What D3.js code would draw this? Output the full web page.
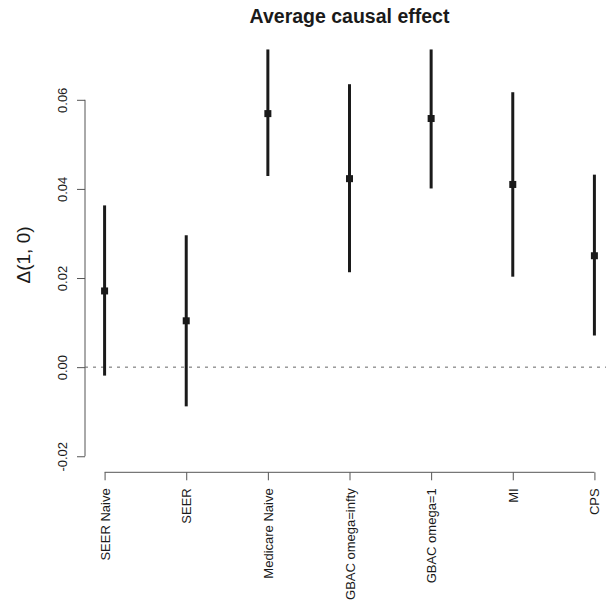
<!DOCTYPE html>
<html>
<head>
<meta charset="utf-8">
<script src="https://cdn.jsdelivr.net/npm/d3@7"></script>
<style>
  body { margin: 0; background: #fff; }
  text { font-family: "Liberation Sans", Arial, Helvetica, sans-serif; fill: #1a1a1a; }
</style>
</head>
<body>
<script>
// estimates and intervals
const methods = ["SEER Naive", "SEER", "Medicare Naive", "GBAC omega=infty", "GBAC omega=1", "MI", "CPS"];
const estimates = [0.0171, 0.0104, 0.0569, 0.0423, 0.0558, 0.0410, 0.0250];
const lowers = [-0.0019, -0.0088, 0.0429, 0.0213, 0.0401, 0.0203, 0.0071];
const uppers = [0.0363, 0.0296, 0.0713, 0.0635, 0.0713, 0.0617, 0.0432];
const yTicks = [-0.02, 0.00, 0.02, 0.04, 0.06];
const yTickLabels = ["-0.02", "0.00", "0.02", "0.04", "0.06"];

let svg = null;
let x, y = null;

const plot = {left: 85, right: 614, top: 39.2, bottom: 472.3};

appendSvg("body");
setupScales();
appendTitle();
appendYAxis();
appendXAxis();
appendZeroLine();
appendIntervals();

function appendSvg(domElement) {
  svg = d3.select(domElement).append("svg")
    .attr("width", 606)
    .attr("height", 603);
}

function setupScales() {
  x = d3.scalePoint()
    .domain(methods)
    .range([plot.left, plot.right])
    .padding(0.24);

  y = d3.scaleLinear()
    .domain([-0.0236, 0.0736])
    .range([plot.bottom, plot.top]);
}

function appendTitle() {
  svg.append("text")
    .attr("x", 349.5)
    .attr("y", 22.5)
    .attr("text-anchor", "middle")
    .style("font-size", "19.5px")
    .style("font-weight", "bold")
    .text("Average causal effect");

  svg.append("text")
    .attr("transform", "translate(30, 255) rotate(-90)")
    .attr("text-anchor", "middle")
    .style("font-size", "19px")
    .text("\u0394(1, 0)");
}

function appendYAxis() {
  const g = svg.append("g")
    .attr("transform", `translate(${plot.left}, 0)`)
    .call(d3.axisLeft(y).tickValues(yTicks).tickSize(8).tickFormat((d, i) => yTickLabels[i]));
  g.select(".domain").remove();
  g.selectAll(".tick line").attr("stroke", "#555");
  g.selectAll(".tick text")
    .attr("x", null).attr("dy", null)
    .attr("transform", "translate(-23, 0) rotate(-90)")
    .attr("text-anchor", "middle")
    .attr("dy", "0.35em")
    .style("font-size", "13px")
    .style("font-family", "'Liberation Sans', Arial, sans-serif")
    .attr("fill", "#1a1a1a");
  g.append("line")
    .attr("x1", 0).attr("x2", 0)
    .attr("y1", y(yTicks[0])).attr("y2", y(yTicks[yTicks.length - 1]))
    .attr("stroke", "#555");
}

function appendXAxis() {
  const g = svg.append("g")
    .attr("transform", `translate(0, ${plot.bottom})`)
    .call(d3.axisBottom(x).tickSize(8));
  g.select(".domain").remove();
  g.selectAll(".tick line").attr("stroke", "#555");
  g.selectAll(".tick text")
    .attr("y", null).attr("dy", null)
    .attr("transform", "translate(0, 16) rotate(-90)")
    .attr("text-anchor", "end")
    .attr("dy", "0.35em")
    .style("font-size", "13px")
    .style("font-family", "'Liberation Sans', Arial, sans-serif")
    .attr("fill", "#1a1a1a");
  g.append("line")
    .attr("x1", x(methods[0])).attr("x2", x(methods[methods.length - 1]))
    .attr("y1", 0).attr("y2", 0)
    .attr("stroke", "#555");
}

function appendZeroLine() {
  svg.append("line")
    .attr("x1", plot.left).attr("x2", plot.right)
    .attr("y1", y(0)).attr("y2", y(0))
    .attr("stroke", "#666")
    .attr("stroke-width", 1)
    .attr("stroke-dasharray", "3,5");
}

function appendIntervals() {
  const data = methods.map((m, i) => ({method: m, est: estimates[i], lo: lowers[i], hi: uppers[i]}));

  svg.selectAll(".ci")
    .data(data)
    .enter()
    .append("line")
    .attr("class", "ci")
    .attr("x1", d => x(d.method)).attr("x2", d => x(d.method))
    .attr("y1", d => y(d.lo)).attr("y2", d => y(d.hi))
    .attr("stroke", "#1a1a1a")
    .attr("stroke-width", 3);

  svg.selectAll(".pt")
    .data(data)
    .enter()
    .append("rect")
    .attr("class", "pt")
    .attr("x", d => x(d.method) - 3.5)
    .attr("y", d => y(d.est) - 3.5)
    .attr("width", 7)
    .attr("height", 7)
    .attr("fill", "#1a1a1a");
}
</script>
</body>
</html>
